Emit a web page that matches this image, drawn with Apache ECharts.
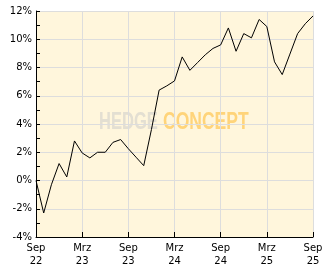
<!DOCTYPE html>
<html><head><meta charset="utf-8">
<script src="https://cdn.jsdelivr.net/npm/echarts@6/dist/echarts.min.js"></script>
<style>html,body{margin:0;padding:0;background:#fff}#c{width:332px;height:269px}</style>
</head><body><div id="c"></div>
<script>
const months = ["Sep 22","Okt 22","Nov 22","Dez 22","Jan 23","Feb 23","Mrz 23","Apr 23","Mai 23","Jun 23","Jul 23","Aug 23",
"Sep 23","Okt 23","Nov 23","Dez 23","Jan 24","Feb 24","Mrz 24","Apr 24","Mai 24","Jun 24","Jul 24","Aug 24",
"Sep 24","Okt 24","Nov 24","Dez 24","Jan 25","Feb 25","Mrz 25","Apr 25","Mai 25","Jun 25","Jul 25","Aug 25","Sep 25"];
const values = [0,-2.3,-0.3,1.2,0.25,2.8,1.95,1.6,2.0,2.0,2.7,2.9,
2.25,1.65,1.05,3.6,6.4,6.7,7.05,8.75,7.8,8.35,8.9,9.35,
9.6,10.8,9.15,10.4,10.1,11.4,10.9,8.4,7.5,8.95,10.4,11.1,11.65];
const yMin = -4, yMax = 12, yStep = 2;
const labelEvery = 6;

const chart = echarts.init(document.getElementById('c'), null, {renderer:'canvas'});
const font = 'DejaVu Sans';
chart.setOption({
  animation:false,
  grid:{left:36,right:19,top:11,bottom:32,show:true,backgroundColor:'#FFF6DC',borderWidth:0},
  xAxis:{type:'category',data:months,boundaryGap:false,
    axisLine:{onZero:false,lineStyle:{color:'#000',width:1}},
    axisTick:{inside:true,length:5,interval:labelEvery-1,lineStyle:{color:'#000'}},
    axisLabel:{interval:labelEvery-1,color:'#000',fontFamily:font,fontSize:10,lineHeight:13,margin:5,
      formatter:v=>v.replace(' ','\n')},
    splitLine:{show:true,interval:labelEvery-1,lineStyle:{color:'#DDDDDD',width:1}}},
  yAxis:{type:'value',min:yMin,max:yMax,interval:yStep,
    axisLine:{show:true,lineStyle:{color:'#000',width:1}},
    axisTick:{show:true,inside:true,length:4,lineStyle:{color:'#000'}},
    minorTick:{show:true,splitNumber:2,length:4,lineStyle:{color:'#000'}},
    axisLabel:{color:'#000',fontFamily:font,fontSize:10,margin:4,formatter:'{value}%'},
    splitLine:{show:true,lineStyle:{color:'#DDDDDD',width:1}}},
  graphic:[
    {type:'text',x:99,y:110,scaleX:0.69,z:0,style:{text:'HEDGE',fill:'rgba(200,200,200,0.5)',font:'bold 24px "Liberation Sans"',textVerticalAlign:'top'}},
    {type:'text',x:163,y:110,scaleX:0.73,z:0,style:{text:'CONCEPT',fill:'rgba(255,200,90,0.75)',font:'bold 24px "Liberation Sans"',textVerticalAlign:'top'}}
  ],
  series:[{type:'line',data:values,showSymbol:false,symbol:'none',z:5,
    lineStyle:{color:'#000',width:1}}]
});
</script></body></html>
